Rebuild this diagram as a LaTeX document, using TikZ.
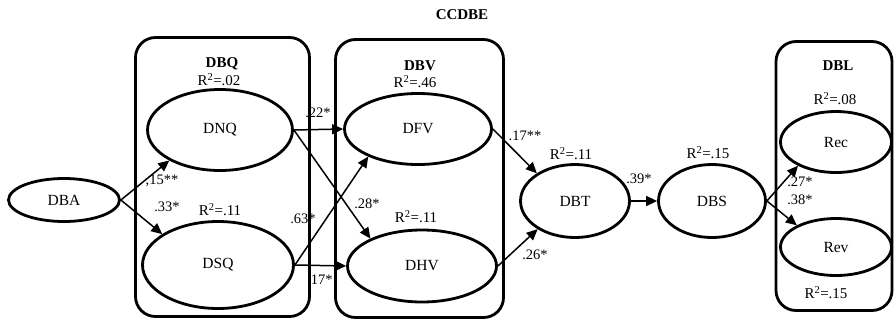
\documentclass[tikz,border=0pt]{standalone}
\usepackage{fontspec}
\setmainfont{Liberation Serif}
\usetikzlibrary{shapes.geometric,arrows.meta}
\begin{document}
\begin{tikzpicture}[x=1pt,y=-1pt,
  latent/.style={ellipse,draw,line width=2.8pt,inner sep=0pt,font=\fontsize{15.5}{17}\selectfont},
  group/.style={draw,line width=2.8pt,rounded corners=20pt,inner sep=0pt},
  path/.style={line width=1.5pt,-{Triangle[length=11pt,width=10pt]}},
  coef/.style={font=\fontsize{14.5}{16}\selectfont,inner sep=0pt},
  rsq/.style={font=\fontsize{15}{17}\selectfont,inner sep=0pt},
  title/.style={font=\fontsize{15}{17}\selectfont\bfseries,inner sep=0pt}]
\useasboundingbox (0,0) rectangle (895,322);

% construct groups
\node[group,minimum width=174pt,minimum height=279pt] (gDBQ) at (222.5,177) {};
\node[group,minimum width=168pt,minimum height=278pt] (gDBV) at (419.5,178.5) {};
\node[group,minimum width=116pt,minimum height=269pt] (gDBL) at (834,176) {};

% latent variables
\node[latent,minimum width=111pt,minimum height=43pt] (DBA) at (64,200) {DBA};
\node[latent,minimum width=145pt,minimum height=81pt] (DNQ) at (220,130) {DNQ};
\node[latent,minimum width=151pt,minimum height=87pt] (DSQ) at (218,265) {DSQ};
\node[latent,minimum width=147pt,minimum height=71pt] (DFV) at (418,129) {DFV};
\node[latent,minimum width=149pt,minimum height=72pt] (DHV) at (422,266) {DHV};
\node[latent,minimum width=109pt,minimum height=73pt] (DBT) at (575,201) {DBT};
\node[latent,minimum width=107pt,minimum height=73pt] (DBS) at (712,201) {DBS};
\node[latent,minimum width=111pt,minimum height=61pt] (Rec) at (836,142) {Rec};
\node[latent,minimum width=111pt,minimum height=57pt] (Rev) at (836,247) {Rev};

% titles and explained variance
\node[title] (tCCDBE) at (462,15) {CCDBE};
\node[title] (tDBQ) at (222,64) {DBQ};
\node[title] (tDBV) at (420,66) {DBV};
\node[title] (tDBL) at (838,66) {DBL};
\node[rsq] (rDNQ) at (219,80) {R\textsuperscript{2}=.02};
\node[rsq] (rDSQ) at (220,210) {R\textsuperscript{2}=.11};
\node[rsq] (rDFV) at (415,82) {R\textsuperscript{2}=.46};
\node[rsq] (rDHV) at (416,217) {R\textsuperscript{2}=.11};
\node[rsq] (rDBT) at (571,154) {R\textsuperscript{2}=.11};
\node[rsq] (rDBS) at (708,153) {R\textsuperscript{2}=.15};
\node[rsq] (rRec) at (835,99) {R\textsuperscript{2}=.08};
\node[rsq] (rRev) at (826,293) {R\textsuperscript{2}=.15};

% structural paths
\draw[path] (DBA.east) -- (DNQ.211);
\draw[path] (DBA.east) -- (DSQ.151);
\draw[path] (DNQ.east) -- (DFV.west);
\draw[path] (DNQ.east) -- (DHV.152);
\draw[path] (DSQ.east) -- (DFV.209);
\draw[path] (DSQ.east) -- (DHV.west);
\draw[path] (DFV.east) -- (DBT.144);
\draw[path] (DHV.east) -- (DBT.217);
\draw[path] (DBT.east) -- (DBS.west);
\draw[path] (DBS.east) -- (Rec.212);
\draw[path] (DBS.east) -- (Rev.151);

% path coefficients
\node[coef] (c1) at (162,181) {,15**};
\node[coef] (c2) at (167,207) {.33*};
\node[coef] (c3) at (318,113) {.22*};
\node[coef] (c4) at (367,204) {.28*};
\node[coef] (c5) at (303,219) {.63*};
\node[coef] (c6) at (320,280) {.17*};
\node[coef] (c7) at (525,136) {.17**};
\node[coef] (c8) at (535,255) {.26*};
\node[coef] (c9) at (639,179) {.39*};
\node[coef] (c10) at (800,182) {.27*};
\node[coef] (c11) at (800,200) {.38*};
\end{tikzpicture}
\end{document}
